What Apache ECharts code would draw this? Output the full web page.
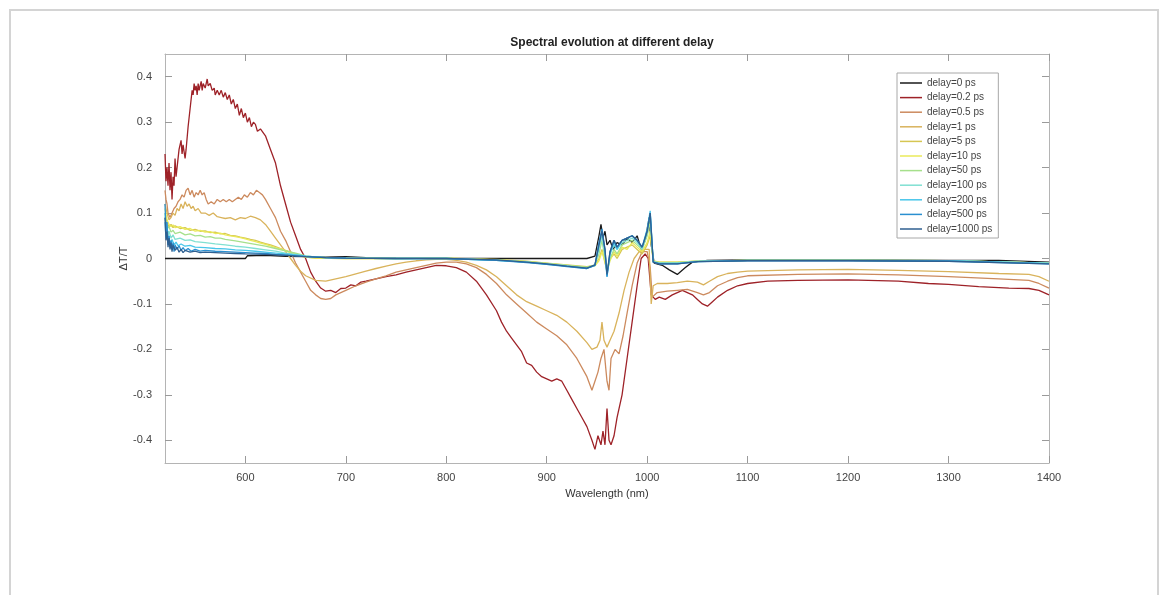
<!DOCTYPE html>
<html>
<head>
<meta charset="utf-8">
<title>Spectral evolution at different delay</title>
<script src="https://cdn.jsdelivr.net/npm/echarts@6/dist/echarts.min.js"></script>
<style>
  html, body { margin: 0; padding: 0; background: #ffffff; }
  #chart { width: 1165px; height: 595px; }
</style>
</head>
<body>
<div id="chart"></div>
<script>
// Series names and line colours (jet-like, as in the figure)
const delayNames = [
  'delay=0 ps', 'delay=0.2 ps', 'delay=0.5 ps', 'delay=1 ps', 'delay=5 ps', 'delay=10 ps',
  'delay=50 ps', 'delay=100 ps', 'delay=200 ps', 'delay=500 ps', 'delay=1000 ps'
];
const delayColors = [
  '#1a1a1a', '#9e2228', '#cc8a5e', '#d9b35c', '#d6c652', '#eaea5a',
  '#a6e08c', '#80e0d2', '#48c6ea', '#2a8fd0', '#2f5f90'
];

const xTicks = [600, 700, 800, 900, 1000, 1100, 1200, 1300, 1400];
const yTicks = [-0.4, -0.3, -0.2, -0.1, 0, 0.1, 0.2, 0.3, 0.4];

// [wavelength (nm), dT/T]
const delay0 = [
  [520, 0], [600, 0], [602, 0.006], [620, 0.007], [640, 0.005], [660, 0.004], [680, 0.003],
  [700, 0.004], [720, 0.002], [750, 0.001], [800, 0], [850, 0], [900, 0], [940, 0],
  [948, 0.005], [952, 0.05], [954, 0.075], [956, 0.045], [958, 0.06], [960, 0.03], [963, 0.04],
  [966, 0.02], [970, 0.035], [975, 0.03], [980, 0.045], [985, 0.035], [990, 0.05], [994, 0.02],
  [998, 0.04], [1002, 0.09], [1004, 0.03], [1007, -0.01], [1015, -0.015], [1022, -0.025],
  [1030, -0.035], [1038, -0.02], [1045, -0.008], [1060, -0.004], [1100, -0.003], [1200, -0.003],
  [1300, -0.004], [1350, -0.004], [1400, -0.008]
];

const delay02 = [
  [520, 0.23], [521, 0.17], [522, 0.2], [523, 0.16], [524, 0.21], [525, 0.15], [526, 0.19],
  [527, 0.13], [528, 0.18], [529, 0.16], [530, 0.22], [531, 0.18], [532, 0.2], [534, 0.24],
  [536, 0.26], [537, 0.23], [538, 0.25], [540, 0.22], [541, 0.24], [543, 0.29], [545, 0.33],
  [547, 0.37], [548, 0.36], [549, 0.385], [550, 0.37], [551, 0.38], [552, 0.36], [553, 0.385],
  [554, 0.37], [556, 0.39], [557, 0.37], [558, 0.385], [560, 0.375], [562, 0.395], [563, 0.38],
  [565, 0.385], [567, 0.37], [569, 0.375], [570, 0.36], [572, 0.37], [574, 0.36], [576, 0.37],
  [578, 0.355], [580, 0.365], [582, 0.35], [584, 0.36], [586, 0.34], [588, 0.35], [590, 0.33],
  [592, 0.34], [594, 0.315], [596, 0.33], [598, 0.31], [600, 0.32], [602, 0.3], [604, 0.31],
  [606, 0.29], [608, 0.3], [610, 0.295], [612, 0.28], [615, 0.285], [620, 0.27], [625, 0.24],
  [630, 0.21], [635, 0.16], [640, 0.12], [645, 0.08], [650, 0.05], [655, 0.02], [660, 0.0],
  [665, -0.03], [670, -0.05], [675, -0.065], [680, -0.072], [685, -0.07], [690, -0.075],
  [695, -0.066], [700, -0.065], [705, -0.058], [710, -0.06], [715, -0.052], [720, -0.05],
  [730, -0.045], [740, -0.04], [750, -0.036], [760, -0.03], [770, -0.025], [780, -0.02],
  [790, -0.015], [800, -0.016], [810, -0.02], [820, -0.03], [830, -0.05], [840, -0.08],
  [850, -0.115], [855, -0.14], [860, -0.16], [865, -0.175], [870, -0.19], [875, -0.205], [880, -0.23],
  [885, -0.235], [890, -0.25], [895, -0.26], [900, -0.265], [905, -0.27], [910, -0.265],
  [915, -0.27], [920, -0.29], [925, -0.31], [930, -0.33], [935, -0.35], [940, -0.37],
  [945, -0.4], [948, -0.42], [951, -0.39], [954, -0.41], [956, -0.38], [958, -0.41],
  [960, -0.33], [962, -0.4], [964, -0.41], [967, -0.39], [970, -0.35], [975, -0.3], [980, -0.22],
  [985, -0.14], [990, -0.06], [994, 0.0], [998, 0.01], [1001, 0.0], [1004, -0.08], [1008, -0.09],
  [1012, -0.085], [1018, -0.09], [1025, -0.08], [1030, -0.075], [1035, -0.07], [1040, -0.075],
  [1045, -0.08], [1050, -0.09], [1055, -0.1], [1060, -0.105], [1065, -0.095], [1070, -0.085],
  [1080, -0.07], [1090, -0.06], [1100, -0.055], [1120, -0.05], [1150, -0.048], [1200, -0.047],
  [1250, -0.05], [1280, -0.055], [1300, -0.057], [1330, -0.062], [1360, -0.065], [1380, -0.066],
  [1390, -0.07], [1400, -0.08]
];

const delay05 = [
  [520, 0.15], [521, 0.13], [522, 0.12], [523, 0.1], [524, 0.095], [525, 0.09], [527, 0.1],
  [529, 0.11], [531, 0.115], [533, 0.125], [535, 0.13], [537, 0.14], [539, 0.135], [541, 0.15],
  [543, 0.155], [545, 0.14], [547, 0.15], [549, 0.135], [551, 0.145], [553, 0.14], [555, 0.15],
  [557, 0.14], [559, 0.145], [561, 0.13], [563, 0.12], [566, 0.125], [569, 0.12], [572, 0.13],
  [575, 0.125], [578, 0.13], [581, 0.125], [584, 0.13], [587, 0.125], [590, 0.13], [593, 0.135],
  [596, 0.13], [599, 0.14], [602, 0.135], [605, 0.145], [608, 0.14], [611, 0.15], [614, 0.145],
  [617, 0.14], [620, 0.13], [625, 0.11], [630, 0.09], [635, 0.06], [640, 0.04], [645, 0.015],
  [650, -0.01], [655, -0.03], [660, -0.05], [665, -0.07], [670, -0.08], [675, -0.088],
  [680, -0.09], [685, -0.088], [690, -0.08], [695, -0.075], [700, -0.07], [710, -0.06],
  [720, -0.052], [730, -0.045], [740, -0.038], [750, -0.03], [760, -0.025], [770, -0.02],
  [780, -0.015], [790, -0.01], [800, -0.008], [810, -0.008], [820, -0.012], [830, -0.02],
  [840, -0.035], [850, -0.055], [860, -0.08], [870, -0.1], [880, -0.12], [890, -0.14],
  [900, -0.155], [910, -0.17], [920, -0.19], [930, -0.22], [940, -0.26], [945, -0.29],
  [948, -0.27], [951, -0.25], [954, -0.22], [957, -0.2], [960, -0.27], [962, -0.29],
  [964, -0.22], [968, -0.2], [972, -0.21], [976, -0.17], [980, -0.12], [985, -0.06],
  [990, -0.01], [995, 0.015], [1000, 0.015], [1003, -0.02], [1005, -0.085], [1010, -0.075],
  [1020, -0.072], [1030, -0.07], [1040, -0.068], [1050, -0.075], [1056, -0.08], [1062, -0.075],
  [1070, -0.06], [1080, -0.05], [1090, -0.042], [1100, -0.038], [1150, -0.035], [1200, -0.034],
  [1250, -0.036], [1300, -0.04], [1350, -0.045], [1380, -0.048], [1390, -0.055], [1400, -0.065]
];

const delay1 = [
  [520, 0.12], [522, 0.1], [524, 0.085], [526, 0.09], [528, 0.1], [530, 0.095], [532, 0.11],
  [534, 0.105], [536, 0.12], [538, 0.11], [540, 0.125], [542, 0.115], [544, 0.12], [546, 0.11],
  [548, 0.115], [550, 0.105], [553, 0.11], [556, 0.1], [560, 0.1], [564, 0.095], [568, 0.1],
  [572, 0.092], [576, 0.09], [580, 0.088], [585, 0.09], [590, 0.085], [595, 0.09], [600, 0.088],
  [605, 0.093], [610, 0.09], [615, 0.085], [620, 0.075], [625, 0.06], [630, 0.045], [635, 0.03],
  [640, 0.015], [645, 0.0], [650, -0.015], [655, -0.028], [660, -0.038], [670, -0.048],
  [680, -0.05], [690, -0.045], [700, -0.04], [710, -0.034], [720, -0.028], [730, -0.022],
  [740, -0.017], [750, -0.012], [760, -0.008], [770, -0.005], [780, -0.003], [790, -0.002],
  [800, -0.002], [810, -0.004], [820, -0.008], [830, -0.015], [840, -0.025], [850, -0.04],
  [860, -0.06], [870, -0.08], [880, -0.095], [890, -0.105], [900, -0.115], [910, -0.125],
  [920, -0.14], [930, -0.16], [940, -0.185], [945, -0.2], [950, -0.195], [953, -0.18],
  [955, -0.14], [957, -0.18], [960, -0.195], [963, -0.18], [967, -0.16], [972, -0.12],
  [977, -0.07], [982, -0.03], [987, 0.0], [992, 0.015], [998, 0.02], [1002, 0.02], [1004, -0.1],
  [1006, -0.06], [1010, -0.055], [1020, -0.055], [1030, -0.053], [1040, -0.05], [1050, -0.052],
  [1056, -0.058], [1062, -0.05], [1070, -0.04], [1080, -0.033], [1090, -0.03], [1100, -0.028],
  [1150, -0.025], [1200, -0.024], [1250, -0.026], [1300, -0.029], [1350, -0.033], [1380, -0.035],
  [1390, -0.04], [1400, -0.05]
];

const delay5 = [
  [520, 0.1], [522, 0.08], [524, 0.07], [526, 0.075], [528, 0.068], [530, 0.072], [535, 0.066],
  [540, 0.068], [545, 0.062], [550, 0.064], [555, 0.06], [560, 0.061], [565, 0.057], [570, 0.058],
  [575, 0.054], [580, 0.055], [585, 0.051], [590, 0.05], [595, 0.047], [600, 0.045], [605, 0.042],
  [610, 0.04], [615, 0.036], [620, 0.033], [625, 0.03], [630, 0.026], [635, 0.022], [640, 0.018],
  [645, 0.014], [650, 0.01], [655, 0.006], [660, 0.003], [670, 0.001], [700, 0.0], [750, 0.0],
  [800, 0.001], [850, -0.002], [880, -0.006], [900, -0.01], [920, -0.014], [940, -0.018],
  [948, -0.015], [952, 0.0], [955, 0.02], [958, -0.01], [960, -0.025], [963, 0.0], [967, 0.01],
  [970, 0.0], [975, 0.02], [980, 0.025], [985, 0.03], [990, 0.02], [995, 0.01], [1000, 0.03],
  [1003, 0.05], [1006, -0.005], [1012, -0.008], [1030, -0.008], [1050, -0.006], [1100, -0.004],
  [1200, -0.004], [1300, -0.005], [1400, -0.01]
];

const delay10 = [
  [520, 0.11], [522, 0.085], [524, 0.075], [526, 0.07], [528, 0.074], [530, 0.068], [535, 0.07],
  [540, 0.064], [545, 0.066], [550, 0.06], [555, 0.062], [560, 0.058], [565, 0.059], [570, 0.055],
  [575, 0.056], [580, 0.052], [585, 0.05], [590, 0.048], [595, 0.046], [600, 0.043], [605, 0.04],
  [610, 0.037], [615, 0.034], [620, 0.031], [625, 0.028], [630, 0.024], [635, 0.021], [640, 0.017],
  [645, 0.013], [650, 0.009], [655, 0.005], [660, 0.003], [670, 0.001], [700, 0.0], [750, 0.0],
  [800, 0.001], [850, -0.003], [880, -0.007], [900, -0.011], [920, -0.015], [940, -0.02],
  [948, -0.016], [952, -0.005], [955, 0.015], [958, -0.005], [960, -0.03], [963, -0.005],
  [967, 0.015], [970, 0.005], [975, 0.025], [980, 0.02], [985, 0.035], [990, 0.025], [995, 0.015],
  [1000, 0.035], [1003, 0.06], [1006, -0.006], [1012, -0.008], [1030, -0.008], [1050, -0.006],
  [1100, -0.004], [1200, -0.004], [1300, -0.005], [1400, -0.01]
];

const delay50 = [
  [520, 0.09], [522, 0.065], [524, 0.07], [526, 0.058], [528, 0.062], [530, 0.055], [535, 0.058],
  [540, 0.052], [545, 0.054], [550, 0.05], [555, 0.051], [560, 0.047], [565, 0.048], [570, 0.045],
  [575, 0.045], [580, 0.042], [590, 0.039], [600, 0.035], [610, 0.031], [620, 0.027], [630, 0.022],
  [640, 0.017], [650, 0.012], [660, 0.006], [670, 0.003], [700, 0.001], [750, 0.0], [800, 0.001],
  [850, -0.003], [880, -0.007], [900, -0.011], [920, -0.015], [940, -0.019], [948, -0.014],
  [952, 0.01], [955, 0.04], [958, 0.0], [960, -0.03], [963, 0.0], [967, 0.02], [970, 0.01],
  [975, 0.03], [980, 0.035], [985, 0.04], [990, 0.03], [995, 0.02], [1000, 0.05], [1003, 0.08],
  [1006, -0.006], [1012, -0.009], [1030, -0.009], [1050, -0.006], [1100, -0.004], [1200, -0.004],
  [1300, -0.005], [1400, -0.01]
];

const delay100 = [
  [520, 0.1], [521, 0.06], [522, 0.075], [523, 0.05], [524, 0.06], [526, 0.045], [528, 0.052],
  [530, 0.042], [535, 0.045], [540, 0.04], [545, 0.041], [550, 0.037], [560, 0.035], [570, 0.032],
  [580, 0.03], [590, 0.027], [600, 0.025], [610, 0.022], [620, 0.019], [630, 0.016], [640, 0.012],
  [650, 0.009], [660, 0.005], [680, 0.002], [700, 0.001], [750, 0.0], [800, 0.0], [850, -0.004],
  [880, -0.008], [900, -0.012], [920, -0.016], [940, -0.021], [948, -0.015], [952, 0.02],
  [955, 0.05], [958, 0.01], [960, -0.035], [963, 0.01], [967, 0.03], [970, 0.02], [975, 0.035],
  [980, 0.04], [985, 0.045], [990, 0.035], [995, 0.02], [1000, 0.06], [1003, 0.095],
  [1006, -0.007], [1012, -0.01], [1030, -0.01], [1050, -0.006], [1100, -0.004], [1200, -0.004],
  [1300, -0.005], [1400, -0.01]
];

const delay200 = [
  [520, 0.08], [521, 0.045], [522, 0.06], [523, 0.035], [524, 0.05], [525, 0.03], [527, 0.042],
  [529, 0.03], [531, 0.036], [533, 0.028], [536, 0.032], [540, 0.027], [545, 0.029], [550, 0.025],
  [560, 0.024], [570, 0.022], [580, 0.021], [590, 0.019], [600, 0.018], [610, 0.016], [620, 0.014],
  [630, 0.012], [640, 0.01], [650, 0.008], [660, 0.005], [680, 0.002], [700, 0.001], [750, 0.0],
  [800, 0.0], [850, -0.004], [880, -0.008], [900, -0.013], [920, -0.017], [940, -0.022],
  [948, -0.015], [952, 0.03], [955, 0.06], [958, 0.015], [960, -0.04], [963, 0.01], [967, 0.035],
  [970, 0.02], [975, 0.04], [980, 0.045], [985, 0.05], [990, 0.04], [995, 0.025], [1000, 0.065],
  [1003, 0.105], [1006, -0.008], [1012, -0.011], [1030, -0.011], [1050, -0.007], [1100, -0.004],
  [1200, -0.004], [1300, -0.005], [1400, -0.011]
];

const delay500 = [
  [520, 0.12], [521, 0.06], [522, 0.08], [523, 0.03], [524, 0.05], [525, 0.025], [526, 0.04],
  [527, 0.02], [528, 0.035], [529, 0.015], [530, 0.03], [532, 0.02], [534, 0.028], [536, 0.018],
  [538, 0.024], [540, 0.017], [543, 0.022], [546, 0.016], [550, 0.02], [555, 0.016], [560, 0.018],
  [570, 0.016], [580, 0.015], [590, 0.014], [600, 0.013], [610, 0.012], [620, 0.011], [630, 0.009],
  [640, 0.008], [650, 0.006], [660, 0.004], [680, 0.002], [700, 0.001], [750, 0.0], [800, 0.0],
  [850, -0.004], [880, -0.009], [900, -0.013], [920, -0.018], [940, -0.022], [948, -0.015],
  [952, 0.035], [955, 0.065], [958, 0.02], [960, -0.04], [963, 0.015], [967, 0.04], [970, 0.025],
  [975, 0.04], [980, 0.045], [985, 0.05], [990, 0.04], [995, 0.025], [1000, 0.06], [1003, 0.1],
  [1006, -0.008], [1012, -0.012], [1030, -0.012], [1050, -0.007], [1100, -0.005], [1200, -0.005],
  [1300, -0.006], [1400, -0.012]
];

const delay1000 = [
  [520, 0.09], [521, 0.04], [522, 0.06], [523, 0.025], [524, 0.045], [525, 0.02], [526, 0.035],
  [527, 0.015], [528, 0.03], [530, 0.018], [532, 0.025], [534, 0.014], [536, 0.02], [538, 0.013],
  [540, 0.018], [545, 0.014], [550, 0.016], [555, 0.013], [560, 0.014], [570, 0.013], [580, 0.012],
  [590, 0.011], [600, 0.01], [620, 0.009], [640, 0.007], [660, 0.004], [680, 0.002], [700, 0.001],
  [750, 0.0], [800, 0.0], [850, -0.003], [880, -0.008], [900, -0.012], [920, -0.017],
  [940, -0.021], [948, -0.014], [952, 0.03], [955, 0.06], [958, 0.02], [960, -0.035], [963, 0.015],
  [967, 0.04], [970, 0.025], [975, 0.04], [980, 0.045], [985, 0.05], [990, 0.04], [995, 0.025],
  [1000, 0.06], [1003, 0.1], [1006, -0.008], [1012, -0.012], [1030, -0.012], [1050, -0.007],
  [1100, -0.005], [1200, -0.005], [1300, -0.006], [1400, -0.012]
];

const delayData = [
  delay0, delay02, delay05, delay1, delay5, delay10,
  delay50, delay100, delay200, delay500, delay1000
];

const FONT = '"Liberation Sans", Arial, Helvetica, sans-serif';
const AXIS_GRAY = '#b4b4b4';

function formatTick(value) {
  const v = Math.round(value * 10) / 10;
  return v === 0 ? '0' : String(v);
}

function makeXAxis(position, withLabels) {
  return {
    type: 'value',
    position: position,
    min: 520,
    max: 1400,
    name: withLabels ? 'Wavelength (nm)' : '',
    nameLocation: 'middle',
    nameGap: 25,
    nameMoveOverlap: false,
    nameTextStyle: { color: '#333', fontSize: 11, fontFamily: FONT },
    axisLine: { show: true, onZero: false, lineStyle: { color: AXIS_GRAY, width: 1 } },
    axisTick: { show: true, inside: true, length: 7, customValues: xTicks, lineStyle: { color: '#9a9a9a' } },
    axisLabel: {
      show: withLabels,
      customValues: xTicks,
      formatter: (v) => String(Math.round(v)),
      margin: 9,
      color: '#444',
      fontSize: 11,
      fontFamily: FONT
    },
    splitLine: { show: false }
  };
}

function makeYAxis(position, withLabels) {
  return {
    type: 'value',
    position: position,
    min: -0.45,
    max: 0.45,
    name: withLabels ? 'ΔT/T' : '',
    nameLocation: 'middle',
    nameRotate: 90,
    nameGap: 36,
    nameMoveOverlap: false,
    nameTextStyle: { color: '#333', fontSize: 11, fontFamily: FONT },
    axisLine: { show: true, onZero: false, lineStyle: { color: AXIS_GRAY, width: 1 } },
    axisTick: { show: true, inside: true, length: 7, customValues: yTicks, lineStyle: { color: '#9a9a9a' } },
    axisLabel: {
      show: withLabels,
      customValues: yTicks,
      formatter: formatTick,
      margin: 13,
      color: '#444',
      fontSize: 11,
      fontFamily: FONT
    },
    splitLine: { show: false }
  };
}

const chart = echarts.init(document.getElementById('chart'), null, { renderer: 'canvas' });

const series = delayNames.map((name, i) => ({
  name: name,
  type: 'line',
  xAxisIndex: 0,
  yAxisIndex: 0,
  data: delayData[i],
  symbol: 'none',
  showSymbol: false,
  smooth: false,
  color: delayColors[i],
  lineStyle: { color: delayColors[i], width: 1.3 },
  z: 2 + i
}));

const option = {
  animation: false,
  backgroundColor: '#ffffff',
  title: {
    text: 'Spectral evolution at different delay',
    left: 607,
    top: 32,
    textAlign: 'center',
    textStyle: { color: '#222', fontSize: 12, fontWeight: 'bold', fontFamily: FONT }
  },
  graphic: [
    {
      type: 'rect',
      silent: true,
      z: -10,
      shape: { x: 10, y: 10, width: 1148, height: 600 },
      style: { fill: 'none', stroke: '#d4d4d4', lineWidth: 2 }
    }
  ],
  legend: {
    orient: 'vertical',
    left: 897,
    top: 73,
    icon: 'rect',
    itemWidth: 22,
    itemHeight: 1.5,
    itemGap: 2.6,
    padding: [4, 6, 3, 3],
    backgroundColor: '#ffffff',
    borderColor: '#a8a8a8',
    borderWidth: 1,
    borderRadius: 0,
    textStyle: { color: '#444', fontSize: 10, fontFamily: FONT, lineHeight: 12 },
    data: delayNames
  },
  grid: { left: 165, right: 116, top: 54, bottom: 132, containLabel: false },
  xAxis: [makeXAxis('bottom', true), makeXAxis('top', false)],
  yAxis: [makeYAxis('left', true), makeYAxis('right', false)],
  series: series
};

chart.setOption(option);
</script>
</body>
</html>
